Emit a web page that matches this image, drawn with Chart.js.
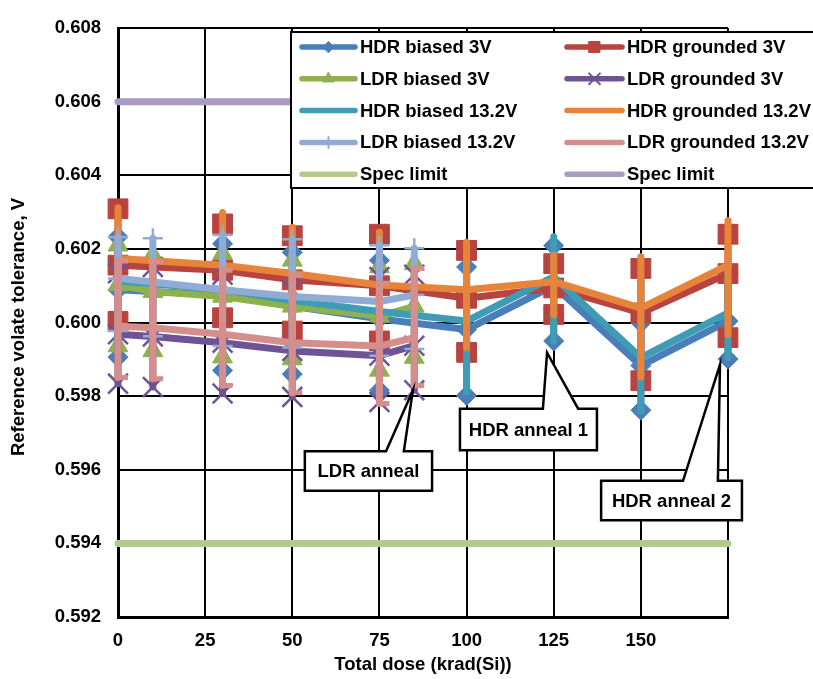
<!DOCTYPE html>
<html>
<head>
<meta charset="utf-8">
<script src="https://cdn.jsdelivr.net/npm/chart.js@4.4.0/dist/chart.umd.min.js"></script>
<style>
  html, body { margin: 0; padding: 0; background: #fff; }
  #wrap { position: relative; width: 813px; height: 679px; }
</style>
</head>
<body>
<div id="wrap"><canvas id="doseChart"></canvas></div>
<script>
// total dose steps, krad(Si)
const hdrDose = [0, 30, 50, 75, 100, 125, 150, 175];
const ldrDose = [0, 10, 30, 50, 75, 85];
const specDose = [0, 175];

// HDR biased 3V
const hdrB3Mean = [0.60089, 0.60075, 0.60044, 0.60010, 0.59981, 0.60100, 0.59883, 0.60004];
const hdrB3Max  = [0.60233, 0.60214, 0.60191, 0.60169, 0.60151, 0.60209, 0.59999, 0.60133];
const hdrB3Min  = [0.59906, 0.59870, 0.59860, 0.59816, 0.59802, 0.59950, 0.59762, 0.59901];
// HDR grounded 3V
const hdrG3Mean = [0.60156, 0.60142, 0.60116, 0.60100, 0.60066, 0.60094, 0.60026, 0.60133];
const hdrG3Max  = [0.60309, 0.60268, 0.60236, 0.60240, 0.60196, 0.60160, 0.60147, 0.60240];
const hdrG3Min  = [0.60003, 0.60013, 0.59977, 0.59950, 0.59919, 0.60022, 0.59842, 0.59959];
// LDR biased 3V
const ldrB3Mean = [0.60102, 0.60084, 0.60071, 0.60044, 0.60017, 0.60044];
const ldrB3Max  = [0.60210, 0.60183, 0.60187, 0.60169, 0.60151, 0.60160];
const ldrB3Min  = [0.59936, 0.59923, 0.59906, 0.59901, 0.59870, 0.59905];
// LDR grounded 3V
const ldrG3Mean = [0.59968, 0.59962, 0.59945, 0.59923, 0.59910, 0.59937];
const ldrG3Max  = [0.60134, 0.60151, 0.60130, 0.60089, 0.60124, 0.60130];
const ldrG3Min  = [0.59834, 0.59825, 0.59807, 0.59798, 0.59784, 0.59816];
// HDR biased 13.2V
const hdrB13Mean = [0.60113, 0.60090, 0.60060, 0.60030, 0.60004, 0.60124, 0.59905, 0.60026];
const hdrB13Max  = [0.60220, 0.60210, 0.60200, 0.60180, 0.60150, 0.60233, 0.60120, 0.60160];
const hdrB13Min  = [0.59930, 0.59900, 0.59880, 0.59850, 0.59812, 0.59950, 0.59760, 0.59905];
// HDR grounded 13.2V
const hdrG13Mean = [0.60174, 0.60156, 0.60133, 0.60102, 0.60089, 0.60111, 0.60039, 0.60156];
const hdrG13Max  = [0.60312, 0.60299, 0.60259, 0.60245, 0.60218, 0.60183, 0.60179, 0.60277];
const hdrG13Min  = [0.60030, 0.60020, 0.60000, 0.59970, 0.59932, 0.60022, 0.59852, 0.59968];
// LDR biased 13.2V
const ldrB13Mean = [0.60120, 0.60110, 0.60089, 0.60071, 0.60057, 0.60075];
const ldrB13Max  = [0.60232, 0.60229, 0.60238, 0.60226, 0.60210, 0.60202];
const ldrB13Min  = [0.59977, 0.59963, 0.59936, 0.59932, 0.59910, 0.59928];
// LDR grounded 13.2V
const ldrG13Mean = [0.59990, 0.59986, 0.59968, 0.59945, 0.59936, 0.59959];
const ldrG13Max  = [0.60167, 0.60165, 0.60142, 0.60129, 0.60107, 0.60147];
const ldrG13Min  = [0.59851, 0.59847, 0.59829, 0.59809, 0.59780, 0.59829];
// spec limits
const specLow  = [0.594, 0.594];
const specHigh = [0.606, 0.606];

const FONT = 'bold 18.5px "Liberation Sans", Arial, sans-serif';

const series = [
  { label: 'HDR biased 3V', dose: hdrDose, mean: hdrB3Mean, max: hdrB3Max, min: hdrB3Min, color: '#4A7EBB', marker: 'rectRot', r: 10 },
  { label: 'HDR grounded 3V', dose: hdrDose, mean: hdrG3Mean, max: hdrG3Max, min: hdrG3Min, color: '#B8433F', marker: 'rect', r: 14 },
  { label: 'LDR biased 3V', dose: ldrDose, mean: ldrB3Mean, max: ldrB3Max, min: ldrB3Min, color: '#8EB04E', marker: 'triangle', r: 11.5 },
  { label: 'LDR grounded 3V', dose: ldrDose, mean: ldrG3Mean, max: ldrG3Max, min: ldrG3Min, color: '#6E5494', marker: 'crossRot', r: 14 },
  { label: 'HDR biased 13.2V', dose: hdrDose, mean: hdrB13Mean, max: hdrB13Max, min: hdrB13Min, color: '#3E9DB4', marker: null },
  { label: 'HDR grounded 13.2V', dose: hdrDose, mean: hdrG13Mean, max: hdrG13Max, min: hdrG13Min, color: '#E8843A', marker: null },
  { label: 'LDR biased 13.2V', dose: ldrDose, mean: ldrB13Mean, max: ldrB13Max, min: ldrB13Min, color: '#90ABD5', marker: 'cross', r: 10 },
  { label: 'LDR grounded 13.2V', dose: ldrDose, mean: ldrG13Mean, max: ldrG13Max, min: ldrG13Min, color: '#D58E8C', marker: null, halfCap: true },
  { label: 'Spec limit', dose: specDose, mean: specLow, color: '#B2CA8C', marker: null },
  { label: 'Spec limit', dose: specDose, mean: specHigh, color: '#A99BC2', marker: null }
];

const callouts = [
  { text: 'LDR anneal', box: [53.6, 90.1, 0.59650, 0.59543], base: [76.9, 82.0], tip: [84.6, 0.59816] },
  { text: 'HDR anneal 1', box: [98.1, 137.4, 0.59766, 0.59653], base: [121.9, 132.0], tip: [123.1, 0.59918] },
  { text: 'HDR anneal 2', box: [138.6, 179.0, 0.59570, 0.59463], base: [162.1, 172.1], tip: [172.7, 0.59886] }
];

const pts = (xs, ys) => xs.map((x, k) => ({ x: x, y: ys[k] }));

function markerOpts(s) {
  const cross = s.marker === 'cross' || s.marker === 'crossRot';
  return {
    pointStyle: s.marker || 'circle',
    pointRadius: s.marker ? s.r : 0,
    pointHoverRadius: s.marker ? s.r : 0,
    pointBackgroundColor: s.color,
    pointBorderColor: s.color,
    pointBorderWidth: cross ? 2.5 : 1
  };
}

const datasets = [];
series.forEach((s, i) => {
  const order = 100 - 10 * i;
  datasets.push(Object.assign({
    label: s.label,
    data: pts(s.dose, s.mean),
    borderColor: s.color,
    borderWidth: 7,
    borderCapStyle: 'round',
    borderJoinStyle: 'round',
    tension: 0,
    clip: false,
    order: order,
    seriesIndex: i
  }, markerOpts(s)));
  if (s.marker && s.max) {
    [s.max, s.min].forEach(arr => {
      datasets.push(Object.assign({
        label: s.label + ' range',
        data: pts(s.dose, arr),
        showLine: false,
        clip: false,
        order: order - 1
      }, markerOpts(s)));
    });
  }
});

function drawMarker(ctx, style, r, x, y, color) {
  ctx.save();
  ctx.fillStyle = color;
  ctx.strokeStyle = color;
  const cross = style === 'cross' || style === 'crossRot';
  ctx.lineWidth = cross ? 2 : 1;
  Chart.helpers.drawPoint(ctx, { pointStyle: style, radius: r, rotation: 0, borderWidth: ctx.lineWidth }, x, y);
  ctx.restore();
}

const errorBars = {
  id: 'errorBars',
  beforeDatasetDraw(chart, args) {
    const ds = chart.data.datasets[args.index];
    if (ds.seriesIndex === undefined) return;
    const s = series[ds.seriesIndex];
    if (!s.max) return;
    const ctx = chart.ctx, xs = chart.scales.x, ys = chart.scales.y;
    ctx.save();
    ctx.strokeStyle = s.color;
    ctx.lineCap = 'round';
    s.dose.forEach((d, k) => {
      const px = xs.getPixelForValue(d);
      const yTop = ys.getPixelForValue(s.max[k]);
      const yBot = ys.getPixelForValue(s.min[k]);
      ctx.lineWidth = 7;
      ctx.beginPath();
      ctx.moveTo(px, yTop);
      ctx.lineTo(px, yBot);
      ctx.stroke();
      if (s.halfCap) {
        ctx.lineWidth = 5;
        ctx.lineCap = 'butt';
        ctx.beginPath();
        ctx.moveTo(px, yTop); ctx.lineTo(px + 10, yTop);
        ctx.moveTo(px, yBot); ctx.lineTo(px + 10, yBot);
        ctx.stroke();
        ctx.lineCap = 'round';
      }
    });
    ctx.restore();
  }
};

const overlay = {
  id: 'overlay',
  afterDraw(chart) {
    const ctx = chart.ctx, xs = chart.scales.x, ys = chart.scales.y;
    ctx.save();
    ctx.font = FONT;
    ctx.fillStyle = '#000';

    // y axis title
    ctx.save();
    ctx.translate(19, 327);
    ctx.rotate(-Math.PI / 2);
    ctx.textAlign = 'center';
    ctx.textBaseline = 'middle';
    ctx.fillText('Reference volate tolerance, V', 0, 0);
    ctx.restore();

    // legend
    ctx.fillStyle = '#fff';
    ctx.strokeStyle = '#000';
    ctx.lineWidth = 2;
    ctx.fillRect(291, 32, 540, 156);
    ctx.strokeRect(291, 32, 540, 156);
    series.forEach((s, i) => {
      const col = i % 2, row = Math.floor(i / 2);
      const y = 47 + row * 31.8;
      const x0 = col ? 567 : 302, x1 = col ? 622 : 355;
      ctx.strokeStyle = s.color;
      ctx.lineWidth = 5.5;
      ctx.lineCap = 'round';
      ctx.beginPath();
      ctx.moveTo(x0, y);
      ctx.lineTo(x1, y);
      ctx.stroke();
      if (s.marker) drawMarker(ctx, s.marker, s.r * 0.55, (x0 + x1) / 2, y, s.color);
      ctx.fillStyle = '#000';
      ctx.textAlign = 'left';
      ctx.textBaseline = 'middle';
      ctx.fillText(s.label, col ? 627 : 360, y + 1);
    });

    // callouts
    callouts.forEach(c => {
      const bx0 = xs.getPixelForValue(c.box[0]), bx1 = xs.getPixelForValue(c.box[1]);
      const by0 = ys.getPixelForValue(c.box[2]), by1 = ys.getPixelForValue(c.box[3]);
      const w0 = xs.getPixelForValue(c.base[0]), w1 = xs.getPixelForValue(c.base[1]);
      const tx = xs.getPixelForValue(c.tip[0]), ty = ys.getPixelForValue(c.tip[1]);
      ctx.beginPath();
      ctx.moveTo(bx0, by0);
      ctx.lineTo(w0, by0);
      ctx.lineTo(tx, ty);
      ctx.lineTo(w1, by0);
      ctx.lineTo(bx1, by0);
      ctx.lineTo(bx1, by1);
      ctx.lineTo(bx0, by1);
      ctx.closePath();
      ctx.fillStyle = '#fff';
      ctx.fill();
      ctx.strokeStyle = '#000';
      ctx.lineWidth = 2.5;
      ctx.lineJoin = 'miter';
      ctx.stroke();
      ctx.fillStyle = '#000';
      ctx.textAlign = 'center';
      ctx.textBaseline = 'middle';
      ctx.fillText(c.text, (bx0 + bx1) / 2, (by0 + by1) / 2 + 1);
    });
    ctx.restore();
  }
};

Chart.defaults.font.family = '"Liberation Sans", Arial, sans-serif';
Chart.defaults.font.size = 18.5;
Chart.defaults.font.weight = 'bold';
Chart.defaults.color = '#000';

const gridOpts = { color: '#000', lineWidth: 2, drawTicks: false };
const borderOpts = { color: '#000', width: 3 };

new Chart(document.getElementById('doseChart'), {
  type: 'line',
  data: { datasets: datasets },
  options: {
    responsive: true,
    maintainAspectRatio: false,
    animation: false,
    events: [],
    layout: { padding: { top: 18, right: 85, bottom: 0, left: 0 } },
    plugins: { legend: { display: false }, tooltip: { enabled: false } },
    scales: {
      x: {
        type: 'linear',
        min: 0,
        max: 175,
        ticks: { stepSize: 25, padding: 13, maxRotation: 0, autoSkip: false,
                 callback: v => (v === 175 ? '' : v) },
        grid: gridOpts,
        border: borderOpts,
        title: { display: true, text: 'Total dose (krad(Si))', padding: { top: 0, bottom: 3 } },
        afterFit: s => { s.height = 62; }
      },
      y: {
        type: 'linear',
        min: 0.592,
        max: 0.608,
        ticks: { stepSize: 0.002, padding: 17, callback: v => v.toFixed(3) },
        grid: gridOpts,
        border: borderOpts,
        afterFit: s => { s.width = 118; }
      }
    }
  },
  plugins: [errorBars, overlay]
});
</script>
</body>
</html>
